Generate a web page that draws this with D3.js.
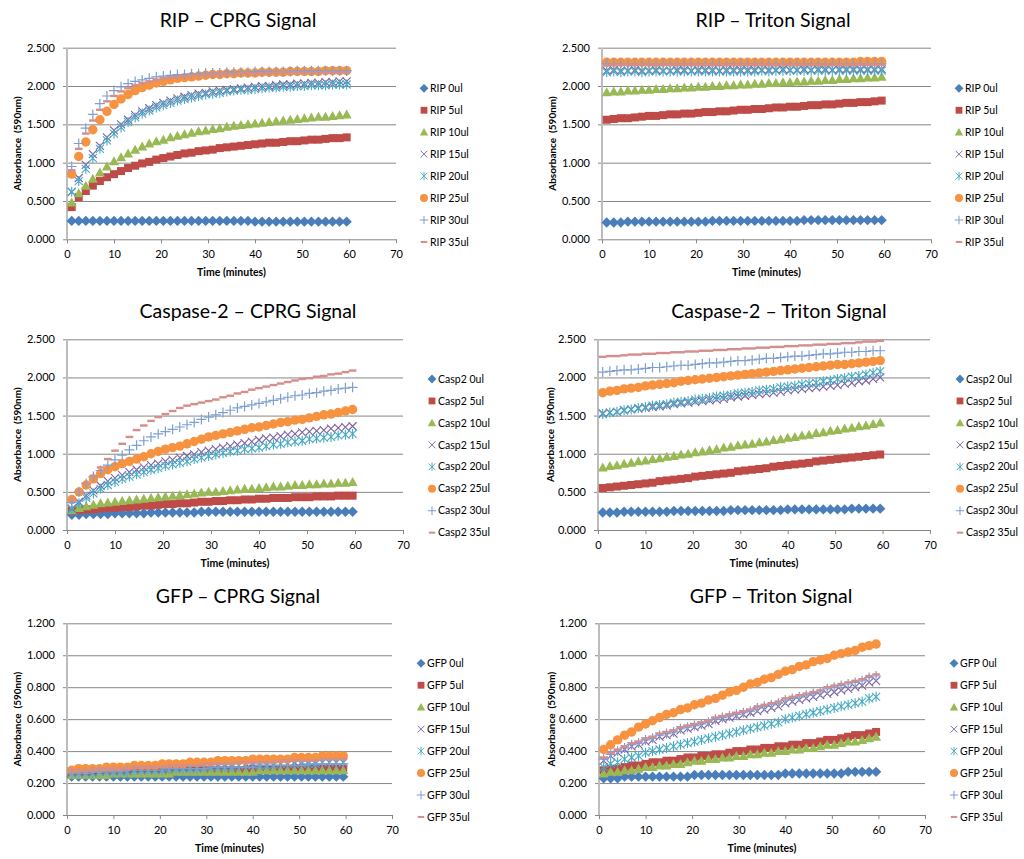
<!DOCTYPE html>
<html>
<head>
<meta charset="utf-8">
<script src="https://cdn.jsdelivr.net/npm/d3@7"></script>
<style>
  html, body { margin: 0; padding: 0; background: #fff; }
  svg text { font-family: Lato, "Open Sans", sans-serif; fill: #000; }
</style>
</head>
<body>
<script>
// sample times (minutes)
const times = [1,2.5,4,5.5,7,8.5,10,11.5,13,14.5, 16,17.5,19,20.5,22,23.5,25,26.5,28,29.5,
  31,32.5,34,35.5,37,38.5,40,41.5,43,44.5, 46,47.5,49,50.5,52,53.5,55,56.5,58,59.5];

const doses = ['0ul', '5ul', '10ul', '15ul', '20ul', '25ul', '30ul', '35ul'];
const xTicks = [0, 10, 20, 30, 40, 50, 60, 70];
const yTicksHigh = [0, 0.5, 1.0, 1.5, 2.0, 2.5];
const yTicksLow = [0, 0.2, 0.4, 0.6, 0.8, 1.0, 1.2];

const ripCprg = [
  [0.24,0.24,0.24,0.24,0.24,0.24,0.24,0.24,0.24,0.24, 0.24,0.24,0.24,0.24,0.24,0.24,0.24,0.24,0.24,0.24, 0.24,0.24,0.24,0.24,0.24,0.24,0.23,0.23,0.23,0.23, 0.23,0.23,0.23,0.23,0.23,0.23,0.23,0.23,0.23,0.23],
  [0.42,0.55,0.63,0.70,0.76,0.81,0.85,0.89,0.93,0.96, 0.99,1.01,1.04,1.06,1.08,1.10,1.12,1.13,1.15,1.16, 1.17,1.19,1.20,1.21,1.22,1.23,1.24,1.25,1.26,1.26, 1.27,1.28,1.28,1.29,1.30,1.30,1.31,1.32,1.32,1.33],
  [0.48,0.60,0.70,0.79,0.87,0.95,1.02,1.07,1.12,1.17, 1.21,1.25,1.28,1.30,1.33,1.35,1.37,1.39,1.41,1.42, 1.44,1.45,1.47,1.48,1.49,1.50,1.51,1.52,1.53,1.54, 1.55,1.56,1.57,1.58,1.59,1.60,1.60,1.61,1.62,1.63],
  [0.62,0.80,0.97,1.11,1.22,1.33,1.42,1.50,1.56,1.62, 1.67,1.71,1.75,1.78,1.81,1.84,1.86,1.88,1.90,1.91, 1.93,1.94,1.95,1.96,1.97,1.98,1.99,2.00,2.00,2.01, 2.02,2.02,2.03,2.03,2.04,2.04,2.05,2.05,2.06,2.06],
  [0.62,0.76,0.92,1.06,1.18,1.29,1.38,1.46,1.53,1.59, 1.64,1.68,1.72,1.75,1.78,1.81,1.83,1.85,1.87,1.89, 1.90,1.91,1.93,1.94,1.95,1.95,1.96,1.97,1.98,1.98, 1.99,1.99,2.00,2.00,2.01,2.01,2.01,2.02,2.02,2.02],
  [0.85,1.08,1.27,1.43,1.56,1.67,1.76,1.83,1.89,1.94, 1.98,2.01,2.04,2.06,2.08,2.10,2.11,2.12,2.13,2.14, 2.15,2.15,2.16,2.16,2.17,2.17,2.17,2.18,2.18,2.18, 2.18,2.19,2.19,2.19,2.19,2.19,2.20,2.20,2.20,2.20],
  [0.95,1.25,1.45,1.63,1.77,1.87,1.94,1.99,2.03,2.06, 2.08,2.10,2.12,2.13,2.14,2.15,2.15,2.16,2.16,2.17, 2.17,2.17,2.18,2.18,2.18,2.18,2.19,2.19,2.19,2.19, 2.19,2.19,2.20,2.20,2.20,2.20,2.20,2.20,2.20,2.20],
  [0.90,1.18,1.38,1.55,1.69,1.80,1.87,1.93,1.97,2.01, 2.04,2.06,2.08,2.10,2.11,2.12,2.13,2.14,2.14,2.15, 2.15,2.16,2.16,2.16,2.17,2.17,2.17,2.17,2.17,2.18, 2.18,2.18,2.18,2.18,2.18,2.18,2.18,2.18,2.18,2.18]
];

const ripTriton = [
  [0.22,0.22,0.22,0.23,0.23,0.23,0.23,0.23,0.23,0.23, 0.23,0.23,0.23,0.23,0.23,0.24,0.24,0.24,0.24,0.24, 0.24,0.24,0.24,0.24,0.24,0.24,0.24,0.24,0.25,0.25, 0.25,0.25,0.25,0.25,0.25,0.25,0.25,0.25,0.25,0.25],
  [1.56,1.57,1.58,1.58,1.59,1.60,1.61,1.61,1.62,1.63, 1.63,1.64,1.64,1.65,1.66,1.66,1.67,1.67,1.68,1.69, 1.69,1.70,1.70,1.71,1.72,1.72,1.73,1.73,1.74,1.75, 1.75,1.76,1.76,1.77,1.78,1.78,1.79,1.79,1.80,1.81],
  [1.92,1.93,1.93,1.94,1.94,1.95,1.95,1.96,1.96,1.97, 1.97,1.98,1.98,1.99,1.99,2.00,2.00,2.01,2.01,2.02, 2.02,2.03,2.03,2.04,2.04,2.05,2.05,2.06,2.06,2.07, 2.07,2.08,2.08,2.09,2.09,2.10,2.10,2.11,2.11,2.12],
  [2.20,2.21,2.20,2.20,2.21,2.20,2.20,2.21,2.20,2.20, 2.21,2.21,2.20,2.21,2.21,2.21,2.20,2.21,2.21,2.21, 2.21,2.21,2.21,2.21,2.21,2.22,2.21,2.21,2.22,2.21, 2.22,2.22,2.21,2.22,2.22,2.22,2.22,2.22,2.22,2.22],
  [2.18,2.19,2.18,2.19,2.19,2.18,2.19,2.19,2.19,2.19, 2.19,2.19,2.19,2.19,2.19,2.19,2.19,2.19,2.19,2.19, 2.19,2.19,2.20,2.19,2.20,2.20,2.20,2.20,2.20,2.20, 2.20,2.20,2.20,2.20,2.20,2.20,2.20,2.20,2.20,2.20],
  [2.31,2.31,2.31,2.31,2.31,2.31,2.31,2.31,2.31,2.31, 2.31,2.31,2.31,2.31,2.31,2.31,2.31,2.31,2.31,2.31, 2.31,2.31,2.31,2.31,2.31,2.31,2.31,2.31,2.31,2.31, 2.31,2.31,2.31,2.31,2.31,2.31,2.32,2.32,2.32,2.32],
  [2.29,2.29,2.29,2.28,2.29,2.29,2.29,2.29,2.29,2.29, 2.29,2.29,2.29,2.29,2.29,2.29,2.29,2.29,2.29,2.29, 2.29,2.29,2.29,2.29,2.29,2.29,2.29,2.29,2.29,2.29, 2.29,2.29,2.29,2.29,2.29,2.29,2.29,2.29,2.29,2.29],
  [2.27,2.28,2.28,2.28,2.28,2.28,2.28,2.28,2.28,2.28, 2.28,2.28,2.28,2.28,2.28,2.28,2.28,2.28,2.28,2.28, 2.28,2.28,2.28,2.28,2.28,2.28,2.28,2.28,2.28,2.28, 2.28,2.28,2.28,2.28,2.28,2.28,2.28,2.28,2.28,2.28]
];

const caspCprg = [
  [0.20,0.20,0.21,0.21,0.21,0.21,0.22,0.22,0.22,0.22, 0.22,0.23,0.23,0.23,0.23,0.23,0.23,0.23,0.24,0.24, 0.24,0.24,0.24,0.24,0.24,0.24,0.24,0.24,0.24,0.24, 0.24,0.24,0.24,0.24,0.24,0.24,0.24,0.24,0.24,0.24],
  [0.25,0.26,0.27,0.27,0.28,0.29,0.29,0.30,0.30,0.31, 0.32,0.32,0.33,0.34,0.34,0.35,0.35,0.36,0.37,0.37, 0.38,0.38,0.39,0.39,0.40,0.40,0.41,0.41,0.42,0.42, 0.42,0.43,0.43,0.43,0.44,0.44,0.44,0.45,0.45,0.45],
  [0.26,0.29,0.31,0.33,0.35,0.36,0.37,0.38,0.39,0.40, 0.41,0.42,0.43,0.44,0.45,0.46,0.47,0.48,0.49,0.50, 0.50,0.51,0.52,0.53,0.54,0.54,0.55,0.56,0.57,0.57, 0.58,0.59,0.59,0.60,0.60,0.61,0.61,0.62,0.62,0.63],
  [0.28,0.37,0.45,0.52,0.58,0.64,0.68,0.72,0.76,0.79, 0.82,0.85,0.87,0.90,0.92,0.95,0.97,0.99,1.02,1.04, 1.06,1.08,1.10,1.12,1.14,1.16,1.18,1.20,1.21,1.23, 1.25,1.26,1.28,1.29,1.30,1.31,1.33,1.34,1.35,1.36],
  [0.27,0.35,0.42,0.48,0.54,0.59,0.63,0.67,0.70,0.73, 0.76,0.79,0.81,0.84,0.86,0.88,0.90,0.93,0.95,0.97, 0.99,1.01,1.03,1.04,1.06,1.07,1.08,1.10,1.12,1.13, 1.15,1.16,1.17,1.19,1.20,1.21,1.22,1.24,1.25,1.26],
  [0.40,0.50,0.59,0.67,0.74,0.79,0.83,0.87,0.90,0.93, 0.96,1.00,1.03,1.06,1.08,1.10,1.13,1.16,1.19,1.22, 1.24,1.26,1.28,1.30,1.32,1.34,1.35,1.37,1.39,1.41, 1.42,1.44,1.45,1.47,1.49,1.51,1.52,1.54,1.56,1.58],
  [0.36,0.50,0.61,0.70,0.78,0.85,0.92,0.98,1.05,1.11, 1.17,1.22,1.26,1.29,1.32,1.35,1.38,1.41,1.45,1.48, 1.51,1.54,1.57,1.60,1.62,1.64,1.66,1.68,1.70,1.72, 1.74,1.76,1.77,1.79,1.80,1.82,1.83,1.85,1.86,1.87],
  [0.39,0.50,0.61,0.71,0.82,0.93,1.04,1.13,1.22,1.31, 1.37,1.43,1.48,1.52,1.56,1.60,1.63,1.65,1.67,1.69, 1.71,1.74,1.76,1.79,1.81,1.84,1.86,1.88,1.90,1.92, 1.94,1.96,1.98,1.99,2.01,2.02,2.04,2.05,2.07,2.09]
];

const caspTriton = [
  [0.23,0.23,0.23,0.24,0.24,0.24,0.24,0.24,0.24,0.24, 0.25,0.25,0.25,0.25,0.25,0.25,0.25,0.25,0.26,0.26, 0.26,0.26,0.26,0.26,0.26,0.26,0.27,0.27,0.27,0.27, 0.27,0.27,0.27,0.27,0.27,0.28,0.28,0.28,0.28,0.28],
  [0.55,0.56,0.57,0.58,0.59,0.60,0.61,0.62,0.64,0.65, 0.66,0.67,0.68,0.70,0.71,0.72,0.73,0.74,0.75,0.77, 0.78,0.79,0.80,0.81,0.83,0.84,0.85,0.86,0.87,0.88, 0.90,0.91,0.92,0.93,0.94,0.95,0.96,0.97,0.98,0.99],
  [0.82,0.84,0.85,0.87,0.88,0.90,0.91,0.93,0.94,0.96, 0.97,0.99,1.00,1.02,1.03,1.05,1.06,1.08,1.09,1.11, 1.12,1.13,1.15,1.16,1.18,1.19,1.21,1.22,1.24,1.25, 1.27,1.28,1.30,1.31,1.33,1.34,1.36,1.37,1.39,1.41],
  [1.53,1.54,1.55,1.57,1.58,1.59,1.60,1.61,1.62,1.63, 1.65,1.66,1.67,1.68,1.69,1.70,1.71,1.72,1.74,1.75, 1.76,1.77,1.78,1.79,1.80,1.81,1.83,1.84,1.85,1.86, 1.87,1.88,1.89,1.90,1.92,1.93,1.95,1.96,1.98,2.00],
  [1.52,1.54,1.55,1.57,1.58,1.60,1.61,1.63,1.64,1.65, 1.67,1.68,1.69,1.71,1.72,1.73,1.75,1.76,1.77,1.79, 1.80,1.81,1.83,1.84,1.85,1.87,1.88,1.89,1.91,1.92, 1.93,1.95,1.96,1.98,1.99,2.01,2.02,2.04,2.06,2.08],
  [1.80,1.82,1.83,1.85,1.86,1.87,1.89,1.90,1.91,1.92, 1.93,1.95,1.96,1.97,1.98,1.99,2.00,2.01,2.02,2.03, 2.04,2.05,2.06,2.07,2.08,2.09,2.10,2.11,2.12,2.13, 2.14,2.15,2.16,2.17,2.17,2.18,2.19,2.20,2.21,2.22],
  [2.07,2.08,2.09,2.10,2.10,2.11,2.12,2.13,2.13,2.14, 2.15,2.16,2.16,2.17,2.18,2.19,2.19,2.20,2.21,2.22, 2.22,2.23,2.24,2.25,2.25,2.26,2.27,2.28,2.28,2.29, 2.30,2.31,2.31,2.32,2.33,2.33,2.34,2.34,2.35,2.35],
  [2.27,2.28,2.28,2.29,2.30,2.30,2.31,2.31,2.32,2.32, 2.33,2.33,2.34,2.34,2.35,2.35,2.36,2.36,2.37,2.37, 2.38,2.38,2.39,2.39,2.40,2.40,2.41,2.41,2.42,2.42, 2.43,2.43,2.44,2.44,2.45,2.45,2.46,2.47,2.47,2.48]
];

const gfpCprg = [
  [0.24,0.24,0.24,0.24,0.24,0.24,0.24,0.24,0.24,0.24, 0.24,0.24,0.24,0.24,0.24,0.24,0.24,0.24,0.24,0.24, 0.24,0.24,0.24,0.24,0.24,0.24,0.24,0.24,0.24,0.24, 0.24,0.24,0.24,0.24,0.24,0.24,0.24,0.24,0.24,0.24],
  [0.26,0.26,0.26,0.26,0.26,0.27,0.27,0.27,0.27,0.27, 0.27,0.27,0.27,0.27,0.28,0.28,0.28,0.28,0.28,0.28, 0.28,0.28,0.28,0.28,0.28,0.28,0.29,0.29,0.29,0.29, 0.29,0.29,0.29,0.29,0.29,0.29,0.29,0.29,0.29,0.29],
  [0.25,0.25,0.25,0.25,0.25,0.25,0.26,0.26,0.26,0.26, 0.26,0.26,0.26,0.26,0.26,0.27,0.27,0.27,0.27,0.27, 0.27,0.27,0.27,0.27,0.27,0.27,0.27,0.28,0.28,0.28, 0.28,0.28,0.28,0.28,0.28,0.28,0.28,0.28,0.28,0.28],
  [0.27,0.27,0.27,0.27,0.28,0.28,0.28,0.28,0.28,0.29, 0.29,0.29,0.29,0.29,0.30,0.30,0.30,0.30,0.30,0.31, 0.31,0.31,0.31,0.31,0.31,0.32,0.32,0.32,0.32,0.32, 0.32,0.32,0.33,0.33,0.33,0.33,0.33,0.33,0.33,0.33],
  [0.26,0.26,0.26,0.26,0.27,0.27,0.27,0.27,0.27,0.28, 0.28,0.28,0.28,0.28,0.29,0.29,0.29,0.29,0.29,0.30, 0.30,0.30,0.30,0.30,0.31,0.31,0.31,0.31,0.31,0.31, 0.32,0.32,0.32,0.32,0.32,0.32,0.33,0.33,0.33,0.33],
  [0.28,0.29,0.29,0.29,0.29,0.30,0.30,0.30,0.30,0.31, 0.31,0.31,0.31,0.32,0.32,0.32,0.32,0.33,0.33,0.33, 0.33,0.34,0.34,0.34,0.34,0.34,0.35,0.35,0.35,0.35, 0.35,0.35,0.36,0.36,0.36,0.36,0.37,0.37,0.37,0.37],
  [0.26,0.26,0.26,0.27,0.27,0.27,0.27,0.27,0.28,0.28, 0.28,0.28,0.28,0.28,0.29,0.29,0.29,0.29,0.29,0.29, 0.30,0.30,0.30,0.30,0.30,0.30,0.30,0.31,0.31,0.31, 0.31,0.31,0.31,0.31,0.32,0.32,0.32,0.32,0.32,0.32],
  [0.28,0.28,0.28,0.28,0.29,0.29,0.29,0.29,0.29,0.30, 0.30,0.30,0.30,0.30,0.31,0.31,0.31,0.31,0.31,0.32, 0.32,0.32,0.32,0.32,0.33,0.33,0.33,0.33,0.33,0.33, 0.34,0.34,0.34,0.34,0.34,0.34,0.35,0.35,0.35,0.35]
];

const gfpTriton = [
  [0.23,0.23,0.23,0.24,0.24,0.24,0.24,0.24,0.24,0.24, 0.24,0.24,0.24,0.25,0.25,0.25,0.25,0.25,0.25,0.25, 0.25,0.25,0.25,0.25,0.25,0.25,0.26,0.26,0.26,0.26, 0.26,0.26,0.26,0.26,0.26,0.27,0.27,0.27,0.27,0.27],
  [0.28,0.29,0.29,0.30,0.31,0.31,0.32,0.33,0.33,0.34, 0.34,0.35,0.36,0.36,0.37,0.37,0.38,0.38,0.39,0.40, 0.40,0.41,0.41,0.42,0.42,0.43,0.43,0.44,0.44,0.45, 0.45,0.46,0.47,0.47,0.48,0.49,0.50,0.50,0.51,0.52],
  [0.26,0.27,0.27,0.28,0.28,0.29,0.30,0.30,0.31,0.31, 0.32,0.32,0.33,0.34,0.34,0.35,0.35,0.36,0.36,0.37, 0.37,0.38,0.38,0.39,0.39,0.40,0.40,0.41,0.41,0.42, 0.42,0.43,0.44,0.44,0.45,0.46,0.46,0.47,0.48,0.49],
  [0.34,0.37,0.39,0.41,0.43,0.44,0.46,0.47,0.49,0.50, 0.51,0.53,0.54,0.55,0.56,0.57,0.59,0.60,0.61,0.62, 0.63,0.64,0.65,0.66,0.67,0.68,0.70,0.71,0.72,0.73, 0.74,0.75,0.76,0.77,0.78,0.79,0.80,0.81,0.83,0.84],
  [0.30,0.32,0.33,0.35,0.36,0.37,0.39,0.40,0.41,0.42, 0.43,0.44,0.45,0.46,0.47,0.48,0.49,0.50,0.51,0.52, 0.53,0.54,0.55,0.56,0.57,0.58,0.60,0.61,0.62,0.63, 0.64,0.65,0.66,0.67,0.68,0.69,0.70,0.71,0.73,0.74],
  [0.41,0.44,0.47,0.50,0.52,0.55,0.57,0.59,0.61,0.63, 0.64,0.66,0.67,0.69,0.70,0.72,0.73,0.75,0.77,0.78, 0.80,0.82,0.83,0.85,0.86,0.88,0.90,0.91,0.93,0.94, 0.96,0.97,0.98,1.00,1.01,1.02,1.03,1.05,1.06,1.07],
  [0.35,0.38,0.40,0.42,0.44,0.45,0.47,0.48,0.50,0.51, 0.52,0.54,0.55,0.56,0.57,0.58,0.60,0.61,0.62,0.63, 0.64,0.65,0.67,0.68,0.69,0.70,0.72,0.73,0.74,0.75, 0.76,0.77,0.79,0.80,0.81,0.82,0.83,0.84,0.86,0.87],
  [0.36,0.39,0.41,0.43,0.45,0.46,0.48,0.49,0.51,0.52, 0.53,0.55,0.56,0.57,0.58,0.59,0.61,0.62,0.63,0.64, 0.65,0.66,0.68,0.69,0.70,0.71,0.73,0.74,0.75,0.76, 0.77,0.78,0.80,0.81,0.82,0.83,0.84,0.85,0.87,0.88]
];

const panels = [
  { title: 'RIP \u2013 CPRG Signal', prefix: 'RIP', yTicks: yTicksHigh, data: ripCprg },
  { title: 'RIP \u2013 Triton Signal', prefix: 'RIP', yTicks: yTicksHigh, data: ripTriton },
  { title: 'Caspase-2 \u2013 CPRG Signal', prefix: 'Casp2', yTicks: yTicksHigh, data: caspCprg },
  { title: 'Caspase-2 \u2013 Triton Signal', prefix: 'Casp2', yTicks: yTicksHigh, data: caspTriton },
  { title: 'GFP \u2013 CPRG Signal', prefix: 'GFP', yTicks: yTicksLow, data: gfpCprg },
  { title: 'GFP \u2013 Triton Signal', prefix: 'GFP', yTicks: yTicksLow, data: gfpTriton }
];

const boxes = [
  { x0: 67,  x1: 396, y0: 47.7,  y1: 239.3, titleX: 238, titleY: 27,  legX: 424, legY: 88.3,  yTitleX: 17 },
  { x0: 602, x1: 931, y0: 47.7,  y1: 239.3, titleX: 773, titleY: 27,  legX: 959, legY: 88.3,  yTitleX: 552 },
  { x0: 67,  x1: 403, y0: 339.3, y1: 530,   titleX: 248, titleY: 318, legX: 432, legY: 379,   yTitleX: 17 },
  { x0: 598, x1: 930, y0: 339.3, y1: 530,   titleX: 779, titleY: 318, legX: 960, legY: 379,   yTitleX: 550 },
  { x0: 67,  x1: 392, y0: 623.3, y1: 815,   titleX: 238, titleY: 603, legX: 421, legY: 663.3, yTitleX: 17 },
  { x0: 599, x1: 925, y0: 623.3, y1: 815,   titleX: 771, titleY: 603, legX: 954, legY: 663.3, yTitleX: 551 }
];
const legStep = 21.95;

const colors = ['#4A7EBB', '#BE4B48', '#98B954', '#7D60A0', '#46AAC5', '#F69240', '#7F9ED2', '#D48E8C'];

// marker drawers (centered at 0,0)
const markers = [
  g => g.append('path').attr('d', 'M0,-5.2L5.2,0L0,5.2L-5.2,0Z'),
  g => g.append('rect').attr('x', -4).attr('y', -4).attr('width', 8).attr('height', 8),
  g => g.append('path').attr('d', 'M0,-5L5,4L-5,4Z'),
  g => g.append('path').attr('d', 'M-4,-4L4,4M-4,4L4,-4').attr('fill', 'none').attr('stroke-width', 1.1),
  g => g.append('path').attr('d', 'M-4,-4L4,4M-4,4L4,-4M0,-5L0,5').attr('fill', 'none').attr('stroke-width', 1.1),
  g => g.append('circle').attr('r', 4.7),
  g => g.append('path').attr('d', 'M-5,0L5,0M0,-5L0,5').attr('fill', 'none').attr('stroke-width', 1.2),
  g => g.append('rect').attr('x', -3.8).attr('y', -1.2).attr('width', 7.6).attr('height', 2.4)
];
const stroked = [false, false, false, true, true, false, true, false];

const svg = d3.select('body').append('svg')
  .attr('width', 1024)
  .attr('height', 859);

panels.forEach((p, pi) => {
  const b = boxes[pi];
  const yMax = p.yTicks[p.yTicks.length - 1];
  const x = d3.scaleLinear().domain([0, 70]).range([b.x0, b.x1]);
  const y = d3.scaleLinear().domain([0, yMax]).range([b.y1, b.y0]);
  const g = svg.append('g');

  // title
  g.append('text')
    .attr('x', b.titleX)
    .attr('y', b.titleY)
    .attr('text-anchor', 'middle')
    .style('font-size', '19.5px')
    .text(p.title);

  // horizontal gridlines
  g.append('g')
    .attr('transform', `translate(${b.x0},0)`)
    .call(d3.axisLeft(y).tickValues(p.yTicks.slice(1)).tickSize(-(b.x1 - b.x0)).tickFormat(''))
    .call(s => s.select('.domain').remove())
    .call(s => s.selectAll('line').attr('stroke', '#878787'));

  // y axis labels + small ticks
  g.append('g')
    .attr('transform', `translate(${b.x0},0)`)
    .call(d3.axisLeft(y).tickValues(p.yTicks).tickSize(4).tickPadding(8).tickFormat(d3.format('.3f')))
    .call(s => s.select('.domain').remove())
    .call(s => s.selectAll('line').attr('stroke', '#878787'))
    .call(s => s.selectAll('text').style('font-size', '11px').attr('fill', '#000'));

  // y axis line
  g.append('line')
    .attr('x1', b.x0).attr('x2', b.x0)
    .attr('y1', b.y0).attr('y2', b.y1)
    .attr('stroke', '#BDBDBD')
    .attr('stroke-width', 2);

  // x axis
  g.append('g')
    .attr('transform', `translate(0,${b.y1})`)
    .call(d3.axisBottom(x).tickValues(xTicks).tickSize(4).tickPadding(7).tickSizeOuter(0))
    .call(s => s.select('.domain').attr('stroke', '#878787'))
    .call(s => s.selectAll('line').attr('stroke', '#878787'))
    .call(s => s.selectAll('text').style('font-size', '11px').attr('fill', '#000'));

  // axis titles
  g.append('text')
    .attr('transform', `translate(${b.yTitleX},${(b.y0 + b.y1) / 2}) rotate(-90)`)
    .attr('text-anchor', 'middle')
    .attr('dy', '0.35em')
    .style('font-size', '10px')
    .style('font-weight', 'bold')
    .style('white-space', 'pre')
    .text('Absorbance  (590nm)');

  g.append('text')
    .attr('x', (b.x0 + b.x1) / 2)
    .attr('y', b.y1 + 37)
    .attr('text-anchor', 'middle')
    .style('font-size', '10.5px')
    .style('font-weight', 'bold')
    .text('Time (minutes)');

  // series markers
  p.data.forEach((vals, si) => {
    const sg = g.append('g');
    vals.forEach((v, i) => {
      const m = sg.append('g').attr('transform', `translate(${x(times[i])},${y(v)})`);
      markers[si](m);
      if (stroked[si]) m.selectAll('*').attr('stroke', colors[si]);
      else m.selectAll('*').attr('fill', colors[si]);
    });
  });

  // legend
  doses.forEach((d, si) => {
    const ly = b.legY + si * legStep;
    const m = g.append('g').attr('transform', `translate(${b.legX},${ly}) scale(0.85)`);
    markers[si](m);
    if (stroked[si]) m.selectAll('*').attr('stroke', colors[si]);
    else m.selectAll('*').attr('fill', colors[si]);
    g.append('text')
      .attr('x', b.legX + 6)
      .attr('y', ly)
      .attr('dy', '0.35em')
      .style('font-size', '10.5px')
      .text(`${p.prefix} ${d}`);
  });
});
</script>
</body>
</html>
